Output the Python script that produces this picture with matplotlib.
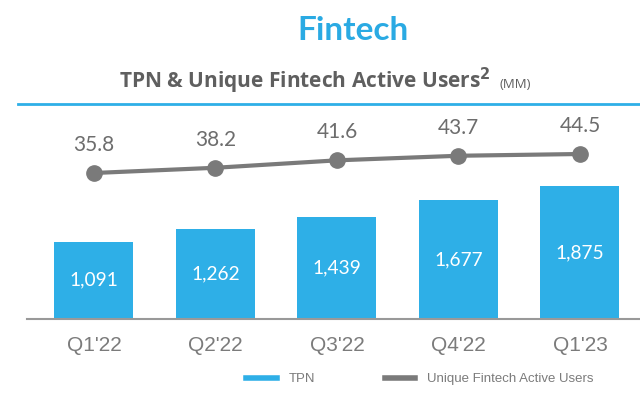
import matplotlib.pyplot as plt
from matplotlib.lines import Line2D

# Datos del gráfico
quarters = ["Q1'22", "Q2'22", "Q3'22", "Q4'22", "Q1'23"]
tpn = [1091, 1262, 1439, 1677, 1875]
users = [35.8, 38.2, 41.6, 43.7, 44.5]
tpn_labels = ["1,091", "1,262", "1,439", "1,677", "1,875"]

blue = '#2eafe7'
gray = '#7a7a7a'
text_gray = '#6d6d6d'

fig = plt.figure(figsize=(6.4, 3.97), dpi=100)

# Ejes principales (barras)
ax = fig.add_axes([27/640, 1 - 319/397, 613/640, 215/397])
x = list(range(len(quarters)))
ax.bar(x, tpn, width=0.65, color=blue, zorder=2)
ax.set_xlim(-0.551, 4.494)
ax.set_ylim(0, 3030)
for xi, v, lab in zip(x, tpn, tpn_labels):
    ax.text(xi, v / 2, lab, ha='center', va='center', color='white',
            fontsize=13.8, family='Lato', zorder=3)

ax.set_xticks(x)
ax.set_xticklabels(quarters, fontsize=15, color='#7b7b7b', family='Liberation Sans')
ax.tick_params(axis='x', length=0, pad=12)
ax.set_yticks([])
for s in ['top', 'right', 'left']:
    ax.spines[s].set_visible(False)
ax.spines['bottom'].set_color('#999999')
ax.spines['bottom'].set_linewidth(1.5)

# Eje secundario (línea)
ax2 = ax.twinx()
ax2.set_ylim(-31.05, 67.4)
ax2.plot(x, users, color=gray, lw=3, marker='o', ms=11, zorder=4)
for xi, v in zip(x, users):
    ax2.text(xi, v + 12.8, f"{v:.1f}", ha='center', va='center', color=text_gray,
             fontsize=15, family='Lato')
ax2.axis('off')

# Títulos
fig.text(353/640, 1 - 31/397, "Fintech", ha='center', va='center',
         fontsize=24, fontweight='bold', color='#2aaae3', family='Lato')
fig.text(119/640, 1 - 88/397, r"TPN & Unique Fintech Active Users$^{\mathbf{2}}$",
         ha='left', va='baseline', fontsize=15, fontweight='bold', color='#5f5f5f',
         family='Open Sans')
fig.text(531/640, 1 - 88/397, "(MM)", ha='right', va='baseline', fontsize=9.5,
         color='#5f5f5f', family='Open Sans')
fig.add_artist(Line2D([18/640, 1], [1 - 104/397, 1 - 104/397], color='#2eafe7', lw=2))

# Leyenda
handles = [Line2D([], [], color=blue, lw=4), Line2D([], [], color=gray, lw=4)]
fig.legend(handles, ['TPN', 'Unique Fintech Active Users'], loc='center',
           bbox_to_anchor=(420/640, 1 - 379/397), ncol=2, frameon=False,
           prop={'family': 'Liberation Sans', 'size': 9.5}, labelcolor='#7b7b7b',
           handlelength=2.3, handletextpad=0.9, columnspacing=5.3)

fig.savefig('out.png', dpi=100)
